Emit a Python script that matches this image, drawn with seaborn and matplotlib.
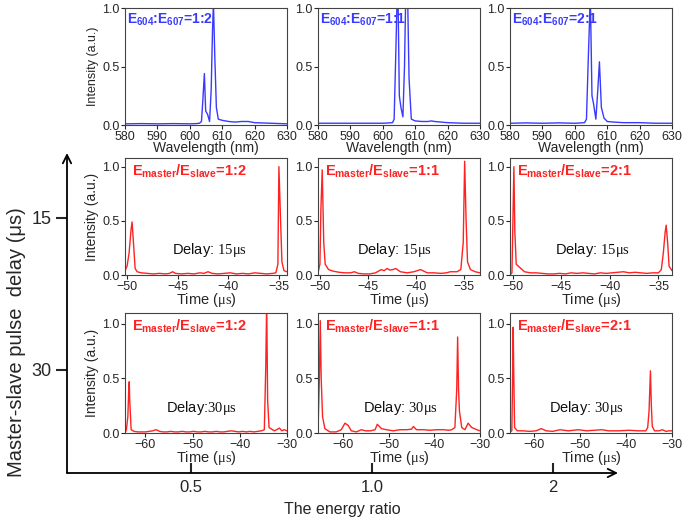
import matplotlib
matplotlib.use("Agg")
import matplotlib.pyplot as plt
import seaborn as sns

# ---------------- data ----------------
# top row: emission spectra, energy ratio E604:E607
wl_12 = [580, 585, 590, 595, 600, 602, 603, 603.6, 604.0, 604.5, 604.9, 605.5, 606.1, 606.6,
         607.0, 607.3, 607.7, 608.2, 608.8, 610, 611, 612, 614, 616, 618, 620, 625, 630]
spec_12 = [0.010, 0.012, 0.010, 0.012, 0.010, 0.012, 0.015, 0.03, 0.20, 0.44, 0.12, 0.09, 0.03, 0.30,
           0.80, 1.05, 0.60, 0.15, 0.05, 0.04, 0.035, 0.03, 0.025, 0.03, 0.03, 0.02, 0.015, 0.01]
wl_11 = [580, 585, 590, 595, 600, 602, 603, 603.5, 604.0, 604.6, 605.1, 605.6, 606.2, 606.7,
         607.2, 607.6, 608.1, 608.8, 610, 612, 614, 615, 616, 618, 620, 625, 630]
spec_11 = [0.015, 0.015, 0.015, 0.015, 0.015, 0.018, 0.02, 0.05, 0.60, 1.30, 0.25, 0.15, 0.07, 0.50,
           1.30, 1.20, 0.40, 0.05, 0.035, 0.03, 0.03, 0.035, 0.03, 0.025, 0.02, 0.015, 0.015]
wl_21 = [580, 585, 590, 595, 600, 602, 603, 603.6, 604.2, 604.8, 605.3, 605.8, 606.5, 607.1,
         607.6, 608.2, 609.0, 610, 612, 615, 618, 620, 625, 630]
spec_21 = [0.015, 0.018, 0.015, 0.018, 0.015, 0.018, 0.02, 0.05, 0.60, 1.10, 0.25, 0.18, 0.05, 0.30,
           0.54, 0.15, 0.06, 0.03, 0.025, 0.02, 0.02, 0.02, 0.015, 0.015]

# middle row: pulse trains, delay 15 us
t15_12 = [-50.2, -50.0, -49.8, -49.6, -49.5, -49.4, -49.2, -49.0, -48.6, -48.0, -47.4, -46.8, -46.2,
          -45.8, -45.5, -45.2, -44.6, -44.0, -43.4, -42.8, -42.4, -42.0, -41.6, -41.0, -40.4, -39.8,
          -39.2, -38.6, -38.0, -37.4, -36.8, -36.2, -35.6, -35.3, -35.1, -35.0, -34.85, -34.7, -34.5, -34.2]
i15_12 = [0.04, 0.08, 0.20, 0.42, 0.49, 0.35, 0.06, 0.03, 0.02, 0.015, 0.01, 0.015, 0.01,
          0.015, 0.03, 0.015, 0.01, 0.015, 0.01, 0.02, 0.015, 0.03, 0.015, 0.01, 0.015, 0.02,
          0.01, 0.015, 0.01, 0.02, 0.015, 0.01, 0.015, 0.02, 0.10, 1.0, 0.55, 0.12, 0.04, 0.03]
t15_11 = [-50.2, -50.0, -49.9, -49.76, -49.6, -49.45, -49.1, -48.6, -48.0, -47.4, -46.8, -46.4, -46.0,
          -45.4, -44.8, -44.2, -43.6, -43.3, -43.0, -42.7, -42.4, -42.1, -41.6, -40.9, -40.2, -39.5,
          -38.8, -38.1, -37.4, -36.8, -36.4, -35.7, -35.3, -35.05, -34.9, -34.75, -34.6, -34.3, -33.8, -33.3]
i15_11 = [0.02, 0.10, 0.60, 0.97, 0.30, 0.10, 0.05, 0.035, 0.025, 0.02, 0.02, 0.03, 0.015,
          0.01, 0.01, 0.02, 0.05, 0.04, 0.06, 0.045, 0.05, 0.06, 0.03, 0.02, 0.03, 0.05,
          0.02, 0.02, 0.015, 0.02, 0.03, 0.03, 0.05, 0.30, 1.05, 0.50, 0.12, 0.05, 0.03, 0.02]
t15_21 = [-50.3, -50.1, -50.0, -49.9, -49.8, -49.66, -49.3, -48.8, -48.2, -47.6, -47.0, -46.4, -45.8,
          -45.2, -44.6, -44.0, -43.4, -42.8, -42.2, -41.6, -41.0, -40.4, -39.8, -39.2, -38.6, -38.0,
          -37.4, -36.8, -36.2, -35.6, -35.0, -34.7, -34.5, -34.3, -34.2, -34.05, -33.9, -33.6]
i15_21 = [0.0, 0.02, 0.50, 1.0, 0.40, 0.10, 0.07, 0.03, 0.02, 0.02, 0.015, 0.01, 0.01,
          0.015, 0.01, 0.02, 0.015, 0.02, 0.015, 0.01, 0.02, 0.015, 0.02, 0.025, 0.03, 0.02,
          0.025, 0.02, 0.015, 0.02, 0.02, 0.05, 0.20, 0.40, 0.46, 0.30, 0.08, 0.04]

# bottom row: pulse trains, delay 30 us
t30_12 = [-64.3, -64.0, -63.7, -63.5, -63.4, -63.3, -63.0, -62.4, -61.6, -60.8, -60.0, -59.2, -58.4,
          -57.8, -57.4, -57.0, -56.2, -55.4, -54.6, -53.8, -53.0, -52.2, -51.4, -50.6, -49.8, -49.0,
          -48.2, -47.4, -46.6, -45.8, -45.0, -44.2, -43.4, -42.6, -41.8, -41.0, -40.2, -39.4, -38.6,
          -37.8, -37.0, -36.2, -35.4, -34.8, -34.5, -34.3, -34.1, -33.8, -33.4, -32.7, -32.2, -31.6,
          -31.1, -30.6, -30.0]
i30_12 = [0.0, 0.03, 0.15, 0.40, 0.47, 0.30, 0.03, 0.015, 0.01, 0.01, 0.01, 0.015, 0.02,
          0.03, 0.025, 0.015, 0.01, 0.01, 0.015, 0.01, 0.01, 0.015, 0.01, 0.01, 0.015, 0.01,
          0.01, 0.015, 0.01, 0.01, 0.015, 0.01, 0.01, 0.015, 0.02, 0.015, 0.01, 0.015, 0.01,
          0.015, 0.01, 0.015, 0.02, 0.03, 0.60, 1.20, 0.30, 0.05, 0.04, 0.02, 0.03, 0.045,
          0.02, 0.03, 0.02]
t30_11 = [-65.5, -65.2, -65.0, -64.8, -64.5, -64.0, -62.9, -61.5, -60.4, -59.6, -58.9, -58.2, -57.1,
          -56.0, -55.1, -54.0, -53.0, -52.5, -51.6, -50.5, -49.0, -47.6, -46.1, -45.0, -44.6, -43.9,
          -42.4, -41.0, -39.5, -38.0, -36.8, -36.2, -35.5, -35.1, -34.9, -34.7, -34.5, -34.0, -33.3,
          -32.6, -31.8, -30.7, -30.0]
i30_11 = [0.02, 0.50, 1.03, 0.50, 0.15, 0.04, 0.01, 0.01, 0.03, 0.09, 0.07, 0.02, 0.01,
          0.03, 0.02, 0.02, 0.03, 0.08, 0.04, 0.03, 0.02, 0.03, 0.03, 0.035, 0.06, 0.03,
          0.03, 0.025, 0.03, 0.03, 0.025, 0.03, 0.05, 0.40, 0.88, 0.40, 0.20, 0.05, 0.03,
          0.09, 0.05, 0.03, 0.02]
t30_21 = [-65.3, -64.9, -64.7, -64.6, -64.5, -64.3, -63.7, -62.5, -61.0, -59.6, -58.5, -57.4, -56.0,
          -54.4, -52.6, -50.4, -48.6, -47.0, -45.3, -43.8, -41.6, -39.4, -37.2, -35.7, -35.3, -35.0,
          -34.7, -34.5, -34.3, -33.8, -32.8, -32.1, -31.3, -30.6, -30.0]
i30_21 = [0.01, 0.02, 0.60, 0.97, 0.60, 0.05, 0.02, 0.02, 0.015, 0.02, 0.04, 0.02, 0.015,
          0.03, 0.02, 0.03, 0.02, 0.025, 0.03, 0.02, 0.02, 0.025, 0.02, 0.02, 0.05, 0.20,
          0.57, 0.25, 0.06, 0.02, 0.02, 0.03, 0.015, 0.02, 0.02]

ratio_labels = ["1:2", "1:1", "2:1"]
ratio_ticks = ["0.5", "1.0", "2"]
delay_ticks = [15, 30]
delay_texts = ["Delay: $\\mathrm{15\\mu s}$", "Delay: $\\mathrm{15\\mu s}$", "Delay: $\\mathrm{15\\mu s}$"]
delay30_texts = ["Delay:$\\mathrm{30\\mu s}$", "Delay: $\\mathrm{30\\mu s}$", "Delay: $\\mathrm{30\\mu s}$"]

# ---------------- style ----------------
sns.set_style("ticks")
plt.rcParams["font.family"] = ["Liberation Sans", "DejaVu Sans"]
plt.rcParams["mathtext.fontset"] = "custom"
plt.rcParams["mathtext.rm"] = "Liberation Serif"
plt.rcParams["mathtext.it"] = "Liberation Serif:italic"
plt.rcParams["mathtext.bf"] = "Liberation Sans:bold"
plt.rcParams["axes.edgecolor"] = "#444444"
plt.rcParams["axes.linewidth"] = 0.8

BLUE = "#3a3aff"
RED = "#ff2222"
W, H = 685, 520

fig = plt.figure(figsize=(6.85, 5.2), dpi=100)


def px_axes(x0, y0, x1, y1):
    return fig.add_axes([x0 / W, 1 - y1 / H, (x1 - x0) / W, (y1 - y0) / H])


# ---------------- outer arrow axes ----------------
outer = px_axes(67, 153, 618, 473)
outer.set_xlim(-0.685, 2.36)
outer.set_ylim(40.2, 8.6)
outer.patch.set_alpha(0)
for s in outer.spines.values():
    s.set_visible(False)
arrow = dict(arrowstyle="->,head_length=0.6,head_width=0.3", lw=1.3, color="black",
             shrinkA=0, shrinkB=0)
outer.annotate("", xy=(1, 0), xytext=(0, 0), xycoords="axes fraction", arrowprops=arrow)
outer.annotate("", xy=(0, 1), xytext=(0, 0), xycoords="axes fraction", arrowprops=arrow)
outer.set_xticks([0, 1, 2], ratio_ticks)
outer.set_yticks(delay_ticks, [str(d) for d in delay_ticks])
outer.tick_params(axis="x", direction="in", length=7, width=1.5, labelsize=12, pad=5)
outer.tick_params(axis="y", direction="out", length=8, width=1.5, labelsize=13, pad=3)
outer.set_xlabel("The energy ratio", fontsize=11.5, labelpad=5)
outer.set_ylabel("Master-slave pulse  delay (μs)", fontsize=14.5)
outer.yaxis.set_label_coords(-0.075, 0.41)

col_x = [125, 318, 510]
panel_w = 162

# ---------------- top row: spectra ----------------
spec_x = [wl_12, wl_11, wl_21]
spec_y = [spec_12, spec_11, spec_21]
for j in range(3):
    ax = px_axes(col_x[j], 8, col_x[j] + panel_w, 125)
    sns.lineplot(x=spec_x[j], y=spec_y[j], ax=ax, color=BLUE, lw=1,
                 estimator=None, sort=False)
    ax.set_xlim(580, 630)
    ax.set_ylim(0, 1.0)
    ax.set_xticks(range(580, 631, 10))
    ax.set_yticks([0, 0.5, 1.0])
    ax.yaxis.set_major_formatter("{x:.1f}")
    ax.tick_params(labelsize=9, length=3, width=0.8, pad=1)
    ax.set_xlabel("Wavelength (nm)", fontsize=10, labelpad=-1)
    ax.set_ylabel("Intensity (a.u.)" if j == 0 else "", fontsize=9, labelpad=2)
    ax.text(0.015, 0.97, "E$_{\\mathbf{604}}$:E$_{\\mathbf{607}}$=" + ratio_labels[j],
            transform=ax.transAxes, color=BLUE, fontsize=10, fontweight="bold",
            ha="left", va="top")

# ---------------- middle and bottom rows: pulse trains ----------------
rows = [
    dict(y=(158, 275), ts=[t15_12, t15_11, t15_21], ys=[i15_12, i15_11, i15_21],
         xlims=[(-50.2, -34.2), (-50.2, -33.3), (-50.3, -33.6)], ylim=1.08,
         xticks=[-50, -45, -40, -35], texts=delay_texts, ty=0.21),
    dict(y=(313, 433), ts=[t30_12, t30_11, t30_21], ys=[i30_12, i30_11, i30_21],
         xlims=[(-64.3, -30), (-65.5, -30), (-65.3, -30)], ylim=1.1,
         xticks=[-60, -50, -40, -30], texts=delay30_texts, ty=0.21),
]
text_x = [[0.52, 0.47, 0.51], [0.47, 0.51, 0.475]]

for r, row in enumerate(rows):
    for j in range(3):
        ax = px_axes(col_x[j], row["y"][0], col_x[j] + panel_w, row["y"][1])
        sns.lineplot(x=row["ts"][j], y=row["ys"][j], ax=ax, color=RED, lw=1,
                     estimator=None, sort=False)
        ax.set_xlim(*row["xlims"][j])
        ax.set_ylim(0, row["ylim"])
        ax.set_xticks(row["xticks"])
        ax.set_yticks([0, 0.5, 1.0])
        ax.yaxis.set_major_formatter("{x:.1f}")
        ax.tick_params(labelsize=9, length=3, width=0.8, pad=1)
        ax.set_xlabel("Time ($\\mathrm{\\mu s}$)", fontsize=10.5, labelpad=-1)
        ax.set_ylabel("Intensity (a.u.)" if j == 0 else "", fontsize=10, labelpad=2)
        ax.text(0.045, 0.96, "E$_{\\mathbf{master}}$/E$_{\\mathbf{slave}}$=" + ratio_labels[j],
                transform=ax.transAxes, color=RED, fontsize=10.5, fontweight="bold",
                ha="left", va="top")
        ax.text(text_x[r][j], row["ty"], row["texts"][j], transform=ax.transAxes,
                fontsize=10.5, ha="center", va="center", color="#111111")

fig.savefig("out.png", dpi=100)
